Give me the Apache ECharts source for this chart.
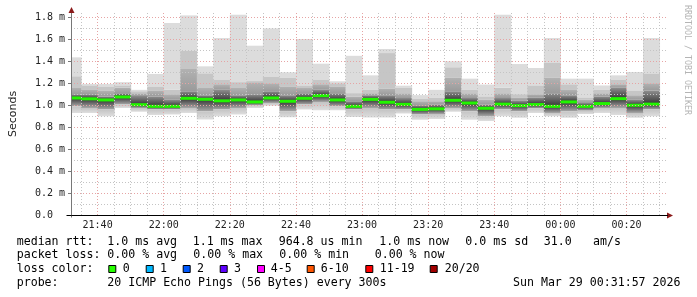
<!DOCTYPE html>
<html><head><meta charset="utf-8">
<script src="https://cdn.jsdelivr.net/npm/echarts@6/dist/echarts.min.js"></script>
<style>html,body{margin:0;padding:0;background:#fff;}#c{width:697px;height:297px;}</style>
</head><body><div id="c"></div>
<script>
// 5-minute bins (end time of each bin)
const binEnds = ['21:35','21:40','21:45','21:50','21:55','22:00','22:05','22:10','22:15','22:20','22:25','22:30',
  '22:35','22:40','22:45','22:50','22:55','23:00','23:05','23:10','23:15','23:20','23:25','23:30',
  '23:35','23:40','23:45','23:50','23:55','00:00','00:05','00:10','00:15','00:20','00:25','00:30'];
// smoke boundaries (ms)
const pingMax = [1.436,1.194,1.194,1.21,1.14,1.285,1.748,1.818,1.354,1.612,1.824,1.542,
  1.70,1.30,1.603,1.378,1.218,1.45,1.272,1.512,1.178,1.092,1.14,1.40,
  1.242,1.188,1.824,1.375,1.339,1.612,1.242,1.242,1.18,1.272,1.303,1.612];
const pingHi1 = [1.263,1.18,1.17,1.18,1.127,1.17,1.14,1.497,1.29,1.23,1.21,1.22,
  1.257,1.25,1.18,1.23,1.20,1.11,1.14,1.475,1.158,1.06,1.066,1.345,
  1.14,1.08,1.158,1.10,1.18,1.385,1.19,1.07,1.14,1.23,1.133,1.288];
const pingHi2 = [1.158,1.14,1.13,1.16,1.11,1.13,1.10,1.33,1.158,1.19,1.158,1.21,
  1.20,1.17,1.158,1.19,1.17,1.08,1.11,1.15,1.11,1.036,1.036,1.25,
  1.11,1.05,1.11,1.07,1.10,1.25,1.14,1.05,1.11,1.19,1.09,1.20];
const pingHi3 = [1.10,1.10,1.08,1.11,1.085,1.08,1.05,1.127,1.09,1.14,1.09,1.10,
  1.127,1.09,1.11,1.14,1.11,1.036,1.09,1.09,1.066,1.0,1.006,1.127,
  1.066,1.006,1.066,1.04,1.07,1.11,1.09,1.02,1.08,1.158,1.05,1.133];
const medianRtt = [1.066,1.058,1.048,1.075,1.005,0.99,0.99,1.063,1.054,1.04,1.048,1.03,
  1.066,1.036,1.063,1.087,1.048,0.99,1.053,1.027,1.008,0.962,0.967,1.045,
  1.02,0.972,1.01,0.996,1.006,0.99,1.03,0.99,1.015,1.06,1.0,1.01];
const pingLo2 = [0.99,0.975,0.96,1.006,0.975,0.96,0.96,0.975,0.945,0.96,0.975,1.0,
  1.02,0.945,1.006,1.03,0.99,0.96,0.975,0.96,0.96,0.915,0.92,0.975,
  0.945,0.90,0.96,0.945,0.97,0.93,0.945,0.95,0.975,0.975,0.93,0.96];
const pingMin = [0.93,0.93,0.90,0.975,0.94,0.91,0.915,0.93,0.87,0.90,0.915,0.975,
  0.995,0.89,0.96,0.955,0.955,0.893,0.888,0.887,0.925,0.868,0.875,0.94,
  0.868,0.857,0.90,0.885,0.93,0.90,0.885,0.92,0.93,0.91,0.885,0.90];

const xStart = '21:31:57', xEnd = '00:31:57';
const xMajorTicks = ['21:40','22:00','22:20','22:40','23:00','23:20','23:40','00:00','00:20'];
const xMinorTicks = ['21:35','21:45','21:50','21:55','22:05','22:10','22:15','22:25','22:30','22:35',
  '22:45','22:50','22:55','23:05','23:10','23:15','23:25','23:30','23:35','23:45','23:50','23:55',
  '00:05','00:10','00:15','00:25','00:30'];
const yMajorTicks = [0,0.2,0.4,0.6,0.8,1.0,1.2,1.4,1.6,1.8];
const yMinorTicks = [0.1,0.3,0.5,0.7,0.9,1.1,1.3,1.5,1.7];
const Y_MAX = 1.84;

const legendRtt = [['median rtt:',16.7],['1.0 ms avg',107.3],['1.1 ms max',192.7],['964.8 us min',278.7],
  ['1.0 ms now',379.3],['0.0 ms sd',465.3],['31.0',543.7],['am/s',593]];
const legendLoss = [['packet loss:',16.7],['0.00 % avg',107.3],['0.00 % max',193.3],['0.00 % min',279.3],['0.00 % now',374.7]];
const lossLabels = ['0','1','2','3','4-5','6-10','11-19','20/20'];
const lossColors = ['#26ff00','#00b8ff','#0059ff','#5e00ff','#ff00ff','#ff5500','#ff0000','#a10000'];
const lossBoxX = [108.3,145.7,182.7,219.7,257,306.7,365.3,429.7];
const lossTextX = [122.7,160,197,234,270.7,320.7,379.7,444.7];
const probeText = '20 ICMP Echo Pings (56 Bytes) every 300s';
const dateText = 'Sun Mar 29 00:31:57 2026';

function toMin(s){ const p = s.split(':').map(Number); let h = p[0]; if (h < 21) h += 24; return (h-21)*60 + p[1] + (p[2]||0)/60; }
const X_MIN = toMin(xStart), X_MAX = toMin(xEnd);
function fmtX(v){ const t = Math.round(v) + 21*60; const h = Math.floor(t/60)%24, m = t%60; return (h<10?'0':'')+h+':'+(m<10?'0':'')+m; }

const data = binEnds.map((e,i)=>[toMin(e),pingMax[i],pingHi1[i],pingHi2[i],pingHi3[i],medianRtt[i],pingLo2[i],pingMin[i]]);

const chart = echarts.init(document.getElementById('c'), null, {renderer:'canvas'});
const MONO = 'DejaVu Sans Mono';
const grad = (c0,c1) => new echarts.graphic.LinearGradient(0,0,0,1,[{offset:0,color:c0},{offset:1,color:c1}]);

function renderItem(params, api){
  const end = api.value(0), start = Math.max(end-5, X_MIN);
  const xl = api.coord([start,0])[0], xr = api.coord([end,0])[0];
  const Y = val => api.coord([end,val])[1];
  const w = xr - xl + 0.5;
  const rect = (top,bot,fill) => ({type:'rect', shape:{x:xl,y:Y(top),width:w,height:Math.max(0,Y(bot)-Y(top))}, style:{fill:fill}});
  const mx=api.value(1), h1=api.value(2), h2=api.value(3), h3=api.value(4), md=api.value(5), l2=api.value(6), mn=api.value(7);
  const ym = Y(md);
  return {type:'group', children:[
    rect(mx,h1,'#dcdcdc'),
    rect(h1,h2,'#c6c6c6'),
    rect(h2,h3,grad('#b2b2b2','#9a9a9a')),
    rect(h3,md,grad('#8e8e8e','#353535')),
    rect(md,l2,grad('#353535','#a8a8a8')),
    rect(l2,mn,grad('#c4c4c4','#dedede')),
    {type:'rect', shape:{x:xl,y:ym-1.5,width:w,height:3}, style:{fill:'#22f500'}}
  ]};
}

const gridMajor = {show:true, lineStyle:{color:'#e6a4a4', type:[1,2], width:1}};
const gridMinor = {show:true, lineStyle:{color:'#c4c4c4', type:[1,2], width:1}};

chart.setOption({
  animation:false,
  backgroundColor:'#ffffff',
  grid:{left:66, top:13, width:600, height:202, containLabel:false},
  xAxis:[
    {type:'value', min:X_MIN, max:X_MAX, position:'bottom', z:5,
     axisLine:{show:true, lineStyle:{color:'#000', width:1}},
     axisTick:{show:false, customValues: xMajorTicks.map(toMin)},
     axisLabel:{customValues: xMajorTicks.map(toMin), formatter: fmtX, fontFamily:MONO, fontSize:10, color:'#222', margin:5},
     splitLine: gridMajor},
    {type:'value', min:X_MIN, max:X_MAX, position:'top', z:4,
     axisLine:{show:false}, axisTick:{show:false, customValues: xMinorTicks.map(toMin)}, axisLabel:{show:false},
     splitLine: gridMinor}
  ],
  yAxis:[
    {type:'value', min:0, max:Y_MAX, position:'left', z:5,
     axisLine:{show:true, lineStyle:{color:'#777', width:1}},
     axisTick:{show:true, length:3, lineStyle:{color:'#777'}, customValues: yMajorTicks},
     axisLabel:{customValues: yMajorTicks, formatter: v => v===0 ? '0.0' : v.toFixed(1)+' m', align:'left', margin:36,
       fontFamily:MONO, fontSize:10, color:'#222'},
     splitLine: gridMajor,
     name:'Seconds', nameLocation:'middle', nameRotate:90, nameGap:52,
     nameTextStyle:{fontFamily:'DejaVu Sans', fontSize:11, color:'#222'}},
    {type:'value', min:0, max:Y_MAX, position:'right', z:4,
     axisLine:{show:false}, axisTick:{show:false, customValues: yMinorTicks}, axisLabel:{show:false},
     splitLine: gridMinor}
  ],
  series:[{
    type:'custom', xAxisIndex:0, yAxisIndex:0, z:2,
    renderItem: renderItem,
    encode:{x:0, y:[1,7]},
    data: data
  }]
});

// decorations and legend text
const g = [];
const tl = chart.convertToPixel({gridIndex:0},[X_MIN,Y_MAX]);
const br = chart.convertToPixel({gridIndex:0},[X_MAX,0]);
const ax = Math.round(tl[0]) + 0.5, ay = Math.round(br[1]) + 0.5;
g.push({type:'line', shape:{x1:ax,y1:tl[1],x2:ax,y2:tl[1]-4}, style:{stroke:'#777',lineWidth:1}, z:10});
g.push({type:'line', shape:{x1:ax,y1:ay,x2:ax,y2:ay+2}, style:{stroke:'#777',lineWidth:1}, z:10});
g.push({type:'line', shape:{x1:ax-5,y1:ay,x2:ax,y2:ay}, style:{stroke:'#000',lineWidth:1}, z:10});
g.push({type:'polygon', shape:{points:[[ax-3,tl[1]],[ax+3,tl[1]],[ax,tl[1]-6]]}, style:{fill:'#8b1a1a'}, z:10});
g.push({type:'polygon', shape:{points:[[br[0]+1,ay-3],[br[0]+1,ay+3],[br[0]+7,ay]]}, style:{fill:'#8b1a1a'}, z:10});
g.push({type:'line', shape:{x1:br[0],y1:ay,x2:br[0]+2,y2:ay}, style:{stroke:'#000',lineWidth:1}, z:10});

const LF = '11.6px "DejaVu Sans Mono"';
const txt = (s,x,y,extra) => Object.assign({type:'text', z:10, style:Object.assign({text:s, x:x, y:y, font:LF, fill:'#000', align:'left', verticalAlign:'middle'}, extra||{})});
legendRtt.forEach(([s,x]) => g.push(txt(s,x,241.5)));
legendLoss.forEach(([s,x]) => g.push(txt(s,x,255)));
g.push(txt('loss color:',16.7,269.3));
lossLabels.forEach((s,i) => {
  g.push({type:'rect', z:10, shape:{x:lossBoxX[i]+0.5,y:265.5,width:7,height:7}, style:{fill:lossColors[i], stroke:'#000', lineWidth:1}});
  g.push(txt(s,lossTextX[i],269.3));
});
g.push(txt('probe:',16.7,283));
g.push(txt(probeText,107.3,283));
g.push(txt(dateText,680.5,283,{align:'right'}));
g.push({type:'text', z:10, x:687.5, y:60, rotation:-Math.PI/2,
  style:{text:'RRDTOOL / TOBI OETIKER', font:'8.3px "DejaVu Sans Mono"', fill:'#b4b4b4', align:'center', verticalAlign:'middle'}});
chart.setOption({graphic:{elements:g}});
</script></body></html>
